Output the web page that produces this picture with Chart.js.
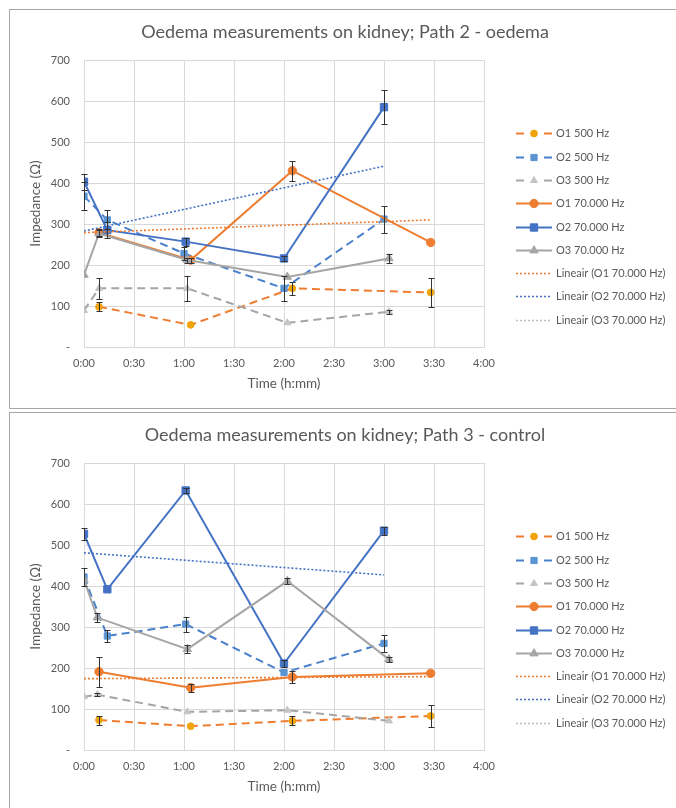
<!DOCTYPE html>
<html>
<head>
<meta charset="utf-8">
<script src="https://cdn.jsdelivr.net/npm/chart.js@4.4.1/dist/chart.umd.min.js"></script>
<style>
  html, body { margin: 0; padding: 0; background: #fff; width: 676px; height: 808px; overflow: hidden; }
  .box { position: absolute; left: 9px; width: 700px; height: 398px; border: 1px solid #A6A6A6; background: #fff; }
  #box1 { top: 9px; }
  #box2 { top: 412px; }
  .box canvas { position: absolute; left: 0; top: 0; }
</style>
</head>
<body>
<div class="box" id="box1"><canvas id="c1" width="666" height="398" style="width:666px;height:398px"></canvas></div>
<div class="box" id="box2"><canvas id="c2" width="666" height="398" style="width:666px;height:398px"></canvas></div>

<script>
// Axis labels
const xTickLabels = ['0:00', '0:30', '1:00', '1:30', '2:00', '2:30', '3:00', '3:30', '4:00'];
const yTickLabels = ['-', '100', '200', '300', '400', '500', '600', '700'];
const seriesNames = [
  'O1 500 Hz', 'O2 500 Hz', 'O3 500 Hz',
  'O1 70.000 Hz', 'O2 70.000 Hz', 'O3 70.000 Hz',
  'Lineair (O1 70.000 Hz)', 'Lineair (O2 70.000 Hz)', 'Lineair (O3 70.000 Hz)'
];

// Path 2 - oedema: time (minutes), impedance (Ω), error (±Ω)
const p2O1lowT = [9, 64, 125, 208];
const p2O1lowV = [98, 54, 143, 133];
const p2O1lowE = [11, 0, 16, 36];
const p2O2lowT = [0, 14, 60, 120, 180];
const p2O2lowV = [368, 310, 228, 143, 312];
const p2O2lowE = [34, 23, 15, 31, 33];
const p2O3lowT = [0, 9, 62, 122, 183];
const p2O3lowV = [89, 143, 143, 59, 86];
const p2O3lowE = [0, 25, 31, 0, 5];
const p2O1highT = [9, 64, 125, 208];
const p2O1highV = [279, 212, 430, 255];
const p2O1highE = [8, 6, 24, 0];
const p2O2highT = [0, 14, 61, 120, 180];
const p2O2highV = [403, 285, 257, 216, 585];
const p2O2highE = [20, 20, 10, 6, 42];
const p2O3highT = [0, 9, 62, 122, 183];
const p2O3highV = [176, 277, 212, 171, 216];
const p2O3highE = [0, 8, 6, 0, 12];
const p2TrendO1T = [0, 208];
const p2TrendO1V = [279, 310];
const p2TrendO2T = [0, 180];
const p2TrendO2V = [283, 441];
const p2TrendO3T = [];
const p2TrendO3V = [];

// Path 3 - control
const p3O1lowT = [9, 64, 125, 208];
const p3O1lowV = [73, 58, 71, 83];
const p3O1lowE = [11, 0, 11, 27];
const p3O2lowT = [0, 14, 61, 120, 180];
const p3O2lowV = [422, 278, 307, 189, 260];
const p3O2lowE = [23, 14, 18, 0, 20];
const p3O3lowT = [0, 8, 62, 122, 183];
const p3O3lowV = [130, 135, 93, 97, 71];
const p3O3lowE = [0, 4, 0, 0, 0];
const p3O1highT = [9, 64, 125, 208];
const p3O1highV = [191, 152, 178, 187];
const p3O1highE = [37, 10, 15, 0];
const p3O2highT = [0, 14, 61, 120, 180];
const p3O2highV = [527, 392, 633, 211, 535];
const p3O2highE = [15, 0, 6, 8, 10];
const p3O3highT = [0, 8, 62, 122, 183];
const p3O3highV = [415, 323, 246, 412, 221];
const p3O3highE = [0, 12, 10, 8, 6];
const p3TrendO1T = [0, 208];
const p3TrendO1V = [174, 179];
const p3TrendO2T = [0, 180];
const p3TrendO2V = [481, 427];
const p3TrendO3T = [];
const p3TrendO3V = [];

const FONT = 'Lato, "Open Sans", sans-serif';
const TEXT = '#595959';
const GRID = '#D9D9D9';

// Visual style of each series, in legend order
const STYLES = [
  { line: '#ED7D31', marker: '#F0A30A', shape: 'circle',   r: 3.4, dash: [8, 5] },
  { line: '#4A80CB', marker: '#5B94D3', shape: 'rect',     r: 4.4, dash: [8, 5] },
  { line: '#A5A5A5', marker: '#C4C4C4', shape: 'triangle', r: 4.0, dash: [8, 5] },
  { line: '#ED7D31', marker: '#ED7D31', shape: 'circle',   r: 4.2, dash: [] },
  { line: '#4472C4', marker: '#4472C4', shape: 'rect',     r: 5.2, dash: [] },
  { line: '#A5A5A5', marker: '#A5A5A5', shape: 'triangle', r: 4.8, dash: [] },
  { line: '#ED7D31', trend: true },
  { line: '#4472C4', trend: true },
  { line: '#BDBDBD', trend: true }
];

function points(t, v) {
  return t.map((x, i) => ({ x: x, y: v[i] }));
}

function buildDatasets(series) {
  return series.map((s, i) => {
    const st = STYLES[i];
    const ds = {
      label: seriesNames[i],
      data: points(s[0], s[1]),
      errors: s[2] || null,
      showLine: true,
      borderColor: st.line,
      backgroundColor: st.marker || st.line,
      tension: 0,
      order: 20 - i
    };
    if (st.trend) {
      ds.borderWidth = 1.6;
      ds.borderDash = [2, 2];
      ds.pointRadius = 0;
      ds.pointHoverRadius = 0;
      ds.order = 1;
    } else {
      ds.borderWidth = 2;
      ds.borderDash = st.dash;
      ds.pointStyle = st.shape;
      ds.pointRadius = st.r;
      ds.pointHoverRadius = st.r;
      ds.pointBackgroundColor = st.marker;
      ds.pointBorderColor = st.marker;
      ds.pointBorderWidth = 1;
    }
    return ds;
  });
}

const errorBarPlugin = {
  id: 'errorBars',
  afterDatasetsDraw(chart) {
    const ctx = chart.ctx;
    const xs = chart.scales.x, ys = chart.scales.y;
    ctx.save();
    ctx.strokeStyle = '#333333';
    ctx.lineWidth = 1;
    ctx.setLineDash([]);
    chart.data.datasets.forEach(ds => {
      if (!ds.errors) return;
      ds.data.forEach((p, i) => {
        const e = ds.errors[i];
        if (!e) return;
        const px = Math.round(xs.getPixelForValue(p.x)) + 0.5;
        const top = Math.round(ys.getPixelForValue(p.y + e)) + 0.5;
        const bot = Math.round(ys.getPixelForValue(p.y - e)) + 0.5;
        ctx.beginPath();
        ctx.moveTo(px, top); ctx.lineTo(px, bot);
        ctx.moveTo(px - 3, top); ctx.lineTo(px + 3, top);
        ctx.moveTo(px - 3, bot); ctx.lineTo(px + 3, bot);
        ctx.stroke();
      });
    });
    ctx.restore();
  }
};

// Chart title and the series key on the right
const framePlugin = {
  id: 'frame',
  afterDraw(chart, args, opts) {
    const ctx = chart.ctx;
    ctx.save();
    ctx.fillStyle = TEXT;
    ctx.font = '18px ' + FONT;
    ctx.textAlign = 'center';
    ctx.textBaseline = 'middle';
    ctx.fillText(opts.title, chart.width / 2 + 2, 22.5);

    const x0 = 506, x1 = 542, xm = 524, xt = 546;
    ctx.font = '11px ' + FONT;
    ctx.textAlign = 'left';
    chart.data.datasets.forEach((ds, i) => {
      const st = STYLES[i];
      const yy = Math.round(123.3 + i * 23.3) + 0.5;
      ctx.strokeStyle = st.line;
      if (st.trend) {
        ctx.lineWidth = 1.6;
        ctx.setLineDash([2, 2]);
      } else {
        ctx.lineWidth = 2;
        ctx.setLineDash(st.dash.length ? [8, 20] : []);
      }
      ctx.beginPath();
      ctx.moveTo(x0, yy); ctx.lineTo(x1, yy);
      ctx.stroke();
      ctx.setLineDash([]);
      if (!st.trend) {
        ctx.fillStyle = st.marker;
        ctx.strokeStyle = st.marker;
        ctx.lineWidth = 1;
        Chart.helpers.drawPoint(ctx, { pointStyle: st.shape, radius: st.r, rotation: 0, borderWidth: 1 }, xm, yy);
      }
      ctx.fillStyle = TEXT;
      ctx.fillText(ds.label, xt, yy);
    });
    ctx.restore();
  }
};

function makeChart(id, title, series) {
  return new Chart(document.getElementById(id), {
    type: 'line',
    data: { datasets: buildDatasets(series) },
    plugins: [errorBarPlugin, framePlugin],
    options: {
      responsive: false,
      animation: false,
      devicePixelRatio: 1,
      layout: { padding: { left: 0, right: 192, top: 50, bottom: 0 } },
      plugins: {
        legend: { display: false },
        tooltip: { enabled: false },
        title: { display: false },
        frame: { title: title }
      },
      events: [],
      scales: {
        x: {
          type: 'linear',
          min: 0, max: 240,
          afterFit: s => { s.height = 61; },
          grid: { color: GRID, drawTicks: false },
          border: { color: GRID },
          ticks: {
            stepSize: 30,
            padding: 10,
            color: TEXT,
            font: { family: FONT, size: 11 },
            callback: v => xTickLabels[Math.round(v / 30)]
          },
          title: {
            display: true, text: 'Time (h:mm)', color: TEXT,
            font: { family: FONT, size: 13.5 },
            padding: { top: 0, bottom: 16.6 }
          }
        },
        y: {
          min: 0, max: 700,
          afterFit: s => { s.width = 74; },
          grid: { color: GRID, drawTicks: false },
          border: { color: GRID },
          ticks: {
            stepSize: 100,
            padding: 14,
            color: TEXT,
            font: { family: FONT, size: 11 },
            callback: v => yTickLabels[Math.round(v / 100)]
          },
          title: {
            display: true, text: 'Impedance (Ω)', color: TEXT,
            font: { family: FONT, size: 13.5 },
            padding: { top: 17.5, bottom: 0 }
          }
        }
      }
    }
  });
}

makeChart('c1', 'Oedema measurements on kidney; Path 2 - oedema', [
  [p2O1lowT, p2O1lowV, p2O1lowE],
  [p2O2lowT, p2O2lowV, p2O2lowE],
  [p2O3lowT, p2O3lowV, p2O3lowE],
  [p2O1highT, p2O1highV, p2O1highE],
  [p2O2highT, p2O2highV, p2O2highE],
  [p2O3highT, p2O3highV, p2O3highE],
  [p2TrendO1T, p2TrendO1V],
  [p2TrendO2T, p2TrendO2V],
  [p2TrendO3T, p2TrendO3V]
]);

makeChart('c2', 'Oedema measurements on kidney; Path 3 - control', [
  [p3O1lowT, p3O1lowV, p3O1lowE],
  [p3O2lowT, p3O2lowV, p3O2lowE],
  [p3O3lowT, p3O3lowV, p3O3lowE],
  [p3O1highT, p3O1highV, p3O1highE],
  [p3O2highT, p3O2highV, p3O2highE],
  [p3O3highT, p3O3highV, p3O3highE],
  [p3TrendO1T, p3TrendO1V],
  [p3TrendO2T, p3TrendO2V],
  [p3TrendO3T, p3TrendO3V]
]);
</script>
</body>
</html>
